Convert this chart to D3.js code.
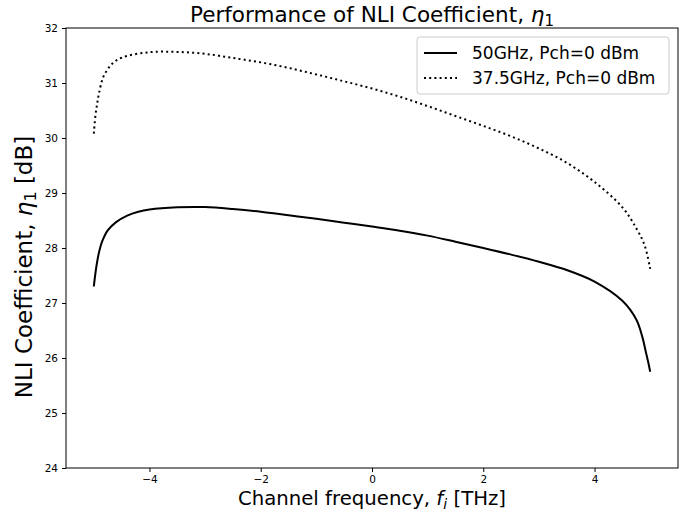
<!DOCTYPE html>
<html>
<head>
<meta charset="utf-8">
<script src="https://cdn.jsdelivr.net/npm/d3@7"></script>
<style>
  body { margin: 0; background: #fff; }
  text { font-family: "DejaVu Sans", sans-serif; }
</style>
</head>
<body>
<div id="chart"></div>
<script>
// series (x in THz, y in dB)
var freq50 = [-5, -4.97, -4.94, -4.9, -4.85, -4.75, -4.6, -4.4, -4.2, -4, -3.5, -3, -2.5, -2, -1.5, -1, -0.5, 0, 0.5, 1, 1.5, 2, 2.5, 3, 3.5, 4, 4.5, 4.75, 4.86, 4.92, 4.97, 5];
var eta50 = [27.30, 27.55, 27.75, 27.95, 28.12, 28.32, 28.47, 28.59, 28.66, 28.70, 28.74, 28.745, 28.71, 28.66, 28.595, 28.53, 28.46, 28.39, 28.315, 28.225, 28.115, 28.00, 27.88, 27.75, 27.60, 27.39, 27.04, 26.70, 26.38, 26.12, 25.90, 25.75];

var freq375 = [-5, -4.97, -4.94, -4.91, -4.83, -4.75, -4.67, -4.5, -4, -3.5, -3, -2.5, -2, -1.5, -1, -0.5, 0, 0.5, 1, 1.5, 2, 2.5, 3, 3.5, 4, 4.5, 4.75, 4.9, 5];
var eta375 = [30.08, 30.42, 30.62, 30.80, 31.11, 31.25, 31.35, 31.46, 31.56, 31.565, 31.53, 31.455, 31.375, 31.275, 31.155, 31.03, 30.90, 30.75, 30.58, 30.40, 30.22, 30.03, 29.81, 29.55, 29.20, 28.74, 28.36, 28.05, 27.62];

var xTicks = [-4, -2, 0, 2, 4];
var yTicks = [24, 25, 26, 27, 28, 29, 30, 31, 32];
var seriesNames = ["50GHz, Pch=0 dBm", "37.5GHz, Pch=0 dBm"];

var w = 693, h = 520;
var margin = {left: 66, right: 15, top: 28, bottom: 52};

var svg = d3.select("#chart").append("svg")
            .attr("width", w)
            .attr("height", h);

var x = d3.scaleLinear().domain([-5.5, 5.5]).range([margin.left, w - margin.right]);
var y = d3.scaleLinear().domain([24, 32]).range([h - margin.bottom, margin.top]);

// axes
var xAxis = svg.append("g")
    .attr("transform", "translate(0," + (h - margin.bottom) + ")")
    .call(d3.axisBottom(x).tickValues(xTicks).tickSize(4).tickPadding(4)
          .tickFormat(function(d) { return d < 0 ? "\u2212" + Math.abs(d) : d; }));
var yAxis = svg.append("g")
    .attr("transform", "translate(" + margin.left + ",0)")
    .call(d3.axisLeft(y).tickValues(yTicks).tickSize(4).tickPadding(4));

[xAxis, yAxis].forEach(function(a) {
    a.select(".domain").remove();
    a.selectAll("line").attr("stroke", "#000").attr("stroke-width", 1);
    a.selectAll("text").attr("font-size", 10.5).attr("fill", "#000")
     .style("font-family", "'DejaVu Sans', sans-serif");
});

// frame
svg.append("rect")
   .attr("x", x(-5.5)).attr("y", y(32))
   .attr("width", x(5.5) - x(-5.5)).attr("height", y(24) - y(32))
   .attr("fill", "none").attr("stroke", "#000").attr("stroke-width", 1);

var line = d3.line()
    .x(function(d) { return x(d[0]); })
    .y(function(d) { return y(d[1]); })
    .curve(d3.curveCatmullRom.alpha(0.5));

svg.append("path")
   .datum(d3.zip(freq50, eta50))
   .attr("d", line)
   .attr("fill", "none")
   .attr("stroke", "#000")
   .attr("stroke-width", 2);

svg.append("path")
   .datum(d3.zip(freq375, eta375))
   .attr("d", line)
   .attr("fill", "none")
   .attr("stroke", "#000")
   .attr("stroke-width", 2)
   .attr("stroke-dasharray", "2,3.2");

// title
var title = svg.append("text")
   .attr("x", (x(-5.5) + x(5.5)) / 2).attr("y", 22)
   .attr("text-anchor", "middle").attr("font-size", 21.5);
title.append("tspan").text("Performance of NLI Coefficient, ");
title.append("tspan").attr("font-style", "italic").text("\u03b7");
title.append("tspan").attr("font-size", 15).attr("dy", 4).text("1");

// x label
var xl = svg.append("text")
   .attr("x", (x(-5.5) + x(5.5)) / 2).attr("y", 505)
   .attr("text-anchor", "middle").attr("font-size", 19.7);
xl.append("tspan").text("Channel frequency, ");
xl.append("tspan").attr("font-style", "italic").text("f");
xl.append("tspan").attr("font-style", "italic").attr("font-size", 14).attr("dy", 4).text("i");
xl.append("tspan").attr("dy", -4).text(" [THz]");

// y label
var yl = svg.append("text")
   .attr("transform", "translate(32," + ((y(24) + y(32)) / 2 + 19) + ") rotate(-90)")
   .attr("text-anchor", "middle").attr("font-size", 23);
yl.append("tspan").text("NLI Coefficient, ");
yl.append("tspan").attr("font-style", "italic").text("\u03b7");
yl.append("tspan").attr("font-size", 16).attr("dy", 4).text("1");
yl.append("tspan").attr("dy", -4).text(" [dB]");

// legend
var lg = svg.append("g").attr("transform", "translate(417,37)");
lg.append("rect")
  .attr("width", 252).attr("height", 57).attr("rx", 3)
  .attr("fill", "#fff").attr("fill-opacity", 0.8)
  .attr("stroke", "#ccc").attr("stroke-width", 1);
seriesNames.forEach(function(name, i) {
    var yy = 16 + i * 25;
    lg.append("line")
      .attr("x1", 7).attr("x2", 40).attr("y1", yy).attr("y2", yy)
      .attr("stroke", "#000").attr("stroke-width", 2)
      .attr("stroke-dasharray", i === 1 ? "2,3.2" : null);
    lg.append("text")
      .attr("x", 55).attr("y", yy + 6)
      .attr("font-size", 17)
      .text(name);
});
</script>
</body>
</html>
